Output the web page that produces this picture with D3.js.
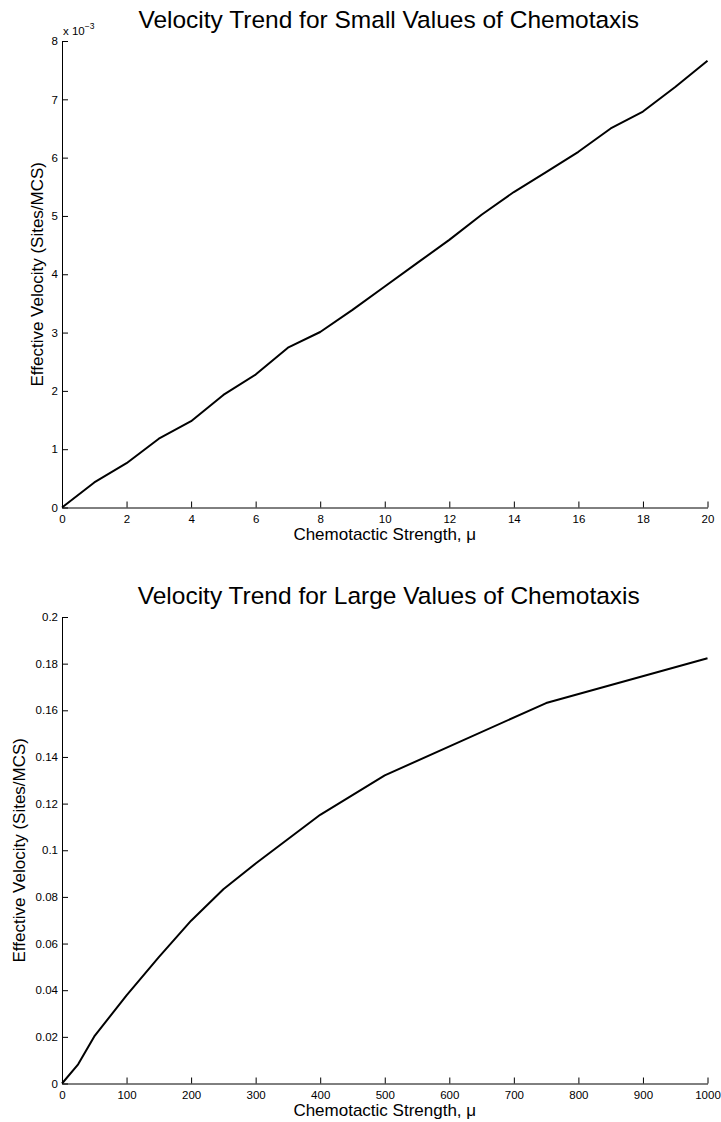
<!DOCTYPE html>
<html>
<head>
<meta charset="utf-8">
<script src="https://cdn.jsdelivr.net/npm/d3@7"></script>
<style>
  html, body { margin: 0; padding: 0; background: #fff; }
  svg { display: block; font-family: "Liberation Sans", Arial, Helvetica, sans-serif; }
</style>
</head>
<body>
<svg id="chart" width="721" height="1122"></svg>
<script>
// small-chemotaxis run: mu = 0..20, velocity in units of 1e-3 sites/MCS
const smallMu = [0, 1, 2, 3, 4, 5, 6, 7, 8, 9, 10, 11, 12, 13, 14, 15, 16, 17, 18, 19, 20];
const smallVel = [0, 0.43, 0.76, 1.18, 1.48, 1.93, 2.28, 2.74, 3.01, 3.39, 3.79, 4.19, 4.59, 5.02, 5.41, 5.75, 6.1, 6.5, 6.79, 7.21, 7.66];
const smallXTicks = [0, 2, 4, 6, 8, 10, 12, 14, 16, 18, 20];
const smallYTicks = [0, 1, 2, 3, 4, 5, 6, 7, 8];

// large-chemotaxis run: mu = 0..1000
const largeMu = [0, 25, 50, 100, 150, 200, 250, 300, 400, 500, 750, 1000];
const largeVel = [0, 0.0082, 0.0202, 0.0378, 0.0542, 0.0698, 0.0833, 0.0943, 0.1152, 0.1321, 0.1631, 0.1823];
const largeXTicks = [0, 100, 200, 300, 400, 500, 600, 700, 800, 900, 1000];
const largeYTicks = [0, 0.02, 0.04, 0.06, 0.08, 0.1, 0.12, 0.14, 0.16, 0.18, 0.2];

const svg = d3.select("#chart");

function drawPanel(opts) {
  const { top, title, xs, ys, xDomain, yDomain, xTicks, yTicks, yFmt, exponent, yLabelX } = opts;
  const left = 62, right = 707.5, h = 466.5;

  const x = d3.scaleLinear().domain(xDomain).range([left, right]);
  const y = d3.scaleLinear().domain(yDomain).range([top + h, top]);

  const g = svg.append("g");

  g.append("text")
    .attr("x", (left + right) / 2 + 4)
    .attr("y", top - 13)
    .attr("text-anchor", "middle")
    .attr("font-size", "24.5px")
    .attr("fill", "#000")
    .text(title);

  const xAxis = g.append("g")
    .attr("transform", `translate(0,${top + h})`)
    .call(d3.axisBottom(x).tickValues(xTicks).tickSizeInner(-6).tickSizeOuter(0).tickPadding(7).tickFormat(d3.format("d")));

  const yAxis = g.append("g")
    .attr("transform", `translate(${left},0)`)
    .call(d3.axisLeft(y).tickValues(yTicks).tickSizeInner(-6).tickSizeOuter(0).tickPadding(4).tickFormat(yFmt));

  [xAxis, yAxis].forEach(a => {
    a.selectAll("path, line").attr("stroke", "#000").attr("stroke-width", 1);
    a.selectAll("text").attr("font-size", "11.5px").attr("fill", "#000")
      .attr("font-family", "\"Liberation Sans\", Arial, sans-serif");
  });

  g.append("text")
    .attr("x", (left + right) / 2)
    .attr("y", top + h + 32)
    .attr("text-anchor", "middle")
    .attr("font-size", "17px")
    .attr("fill", "#000")
    .text("Chemotactic Strength, μ");

  g.append("text")
    .attr("transform", `translate(${yLabelX},${top + h / 2}) rotate(-90)`)
    .attr("text-anchor", "middle")
    .attr("font-size", "17px")
    .attr("fill", "#000")
    .text("Effective Velocity (Sites/MCS)");

  if (exponent) {
    const ex = g.append("text")
      .attr("x", left + 1)
      .attr("y", top - 6)
      .attr("font-size", "11.5px")
      .attr("fill", "#000");
    ex.append("tspan").text("x 10");
    ex.append("tspan").attr("dy", -6).attr("font-size", "8.5px").text(exponent);
  }

  const line = d3.line()
    .x((d, i) => x(xs[i]))
    .y(d => y(d));

  g.append("path")
    .datum(ys)
    .attr("fill", "none")
    .attr("stroke", "#000")
    .attr("stroke-width", 2)
    .attr("stroke-linejoin", "round")
    .attr("d", line);
}

drawPanel({
  top: 41,
  title: "Velocity Trend for Small Values of Chemotaxis",
  xs: smallMu, ys: smallVel,
  xDomain: [0, 20], yDomain: [0, 8],
  xTicks: smallXTicks, yTicks: smallYTicks,
  yFmt: d3.format("d"),
  exponent: "\u22123",
  yLabelX: 43
});

drawPanel({
  top: 617,
  title: "Velocity Trend for Large Values of Chemotaxis",
  xs: largeMu, ys: largeVel,
  xDomain: [0, 1000], yDomain: [0, 0.2],
  xTicks: largeXTicks, yTicks: largeYTicks,
  yFmt: d => d === 0 ? "0" : String(+d.toFixed(2)),
  yLabelX: 25
});
</script>
</body>
</html>
